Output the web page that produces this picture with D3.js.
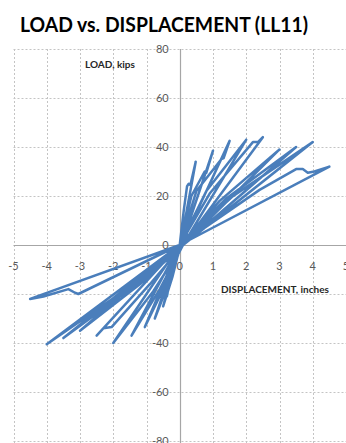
<!DOCTYPE html>
<html>
<head>
<meta charset="utf-8">
<script src="https://cdn.jsdelivr.net/npm/d3@7"></script>
<style>
  html, body { margin: 0; padding: 0; background: #fff; }
  svg { display: block; }
</style>
</head>
<body>
<div id="chart"></div>
<script>
// chart text
const title = 'LOAD vs. DISPLACEMENT (LL11)';
const yTitle = 'LOAD, kips';
const xTitle = 'DISPLACEMENT, inches';

// axis ticks
const xTicks = [-5, -4, -3, -2, -1, 0, 1, 2, 3, 4, 5];
const yTicks = [-80, -60, -40, -20, 0, 20, 40, 60, 80];

// load cycles, [displacement (in), load (kips)]
const cycle1 = [[0, 0], [0.12, 14], [0.22, 24], [0.27, 25], [0.32, 24.5], [0.48, 34], [0.02, 0], [-0.22, -13], [-0.5, -25], [0, 0]];
const cycle2 = [[0, 0], [0.35, 20], [0.75, 30], [0.8, 29.5], [1.0, 38.5], [0.05, 0], [-0.35, -16], [-0.75, -30], [0, 0]];
const cycle3 = [[0, 0], [0.5, 22], [1.25, 35], [1.32, 35.5], [1.5, 42.5], [0.05, 0], [-0.5, -18], [-1.05, -33.5], [0, 0]];
const cycle4 = [[0, 0], [0.8, 22], [2.0, 43], [0.1, 0], [-0.6, -18], [-1.45, -37], [0, 0]];
const cycle5 = [[0, 0], [0.9, 21], [2.2, 42], [2.35, 42], [2.5, 44], [0.1, 0], [-0.8, -19], [-2.0, -40], [0, 0]];
const cycle6 = [[0, 0], [1.2, 18], [3.0, 39], [0.1, 0], [-0.9, -16], [-2.05, -33.5], [-2.3, -34], [-2.5, -37], [0, 0]];
const cycle7 = [[0, 0], [1.4, 19], [3.5, 40], [0.1, 0], [-1.2, -16], [-3.0, -35], [0, 0]];
const cycle8 = [[0, 0], [1.6, 20], [4.0, 42], [0.1, 0], [-1.4, -17], [-3.5, -38], [0, 0]];
const cycle9 = [[0, 0], [1.5, 19], [3.9, 41], [0.1, 0], [-1.6, -18], [-4.0, -40.5], [0, 0]];
const cycle10 = [[0, 0], [2.4, 22.5], [3.5, 31], [3.7, 31], [3.85, 29.5], [4.05, 30], [4.5, 32], [0, 0],
  [-3.05, -20], [-3.15, -19.5], [-3.35, -18], [-4.1, -21], [-4.5, -22], [0, 0]];

const cycles = [cycle1, cycle2, cycle3, cycle4, cycle5, cycle6, cycle7, cycle8, cycle9, cycle10];

const width = 346;
const height = 443;

const svg = d3.select('#chart')
  .append('svg')
  .attr('width', width)
  .attr('height', height);

// scales
const x = d3.scaleLinear().domain([-5, 5]).range([13.5, 346]);
const y = d3.scaleLinear().domain([-80, 80]).range([441, 49]);

// title
svg.append('text')
  .attr('x', 20)
  .attr('y', 32)
  .attr('textLength', 288)
  .attr('lengthAdjust', 'spacingAndGlyphs')
  .style('font-family', 'Lato, "Open Sans", sans-serif')
  .style('font-weight', 'bold')
  .style('font-size', '21px')
  .attr('fill', '#000')
  .text(title);

// dashed grid
svg.append('g')
  .selectAll('line')
  .data(xTicks.filter(d => d !== 0))
  .join('line')
  .attr('x1', d => Math.round(x(d)) + 0.5)
  .attr('x2', d => Math.round(x(d)) + 0.5)
  .attr('y1', y(80))
  .attr('y2', height)
  .attr('stroke', '#c4c4c4')
  .attr('stroke-dasharray', '2,2');

svg.append('g')
  .selectAll('line')
  .data(yTicks.filter(d => d !== 0))
  .join('line')
  .attr('x1', x(-5))
  .attr('x2', width)
  .attr('y1', d => Math.round(y(d)) + 0.5)
  .attr('y2', d => Math.round(y(d)) + 0.5)
  .attr('stroke', '#c4c4c4')
  .attr('stroke-dasharray', '2,2');

// axes through zero
svg.append('line')
  .attr('x1', Math.round(x(0)) + 0.5)
  .attr('x2', Math.round(x(0)) + 0.5)
  .attr('y1', y(80))
  .attr('y2', height)
  .attr('stroke', '#a6a6a6')
  .attr('stroke-width', 1.2);

svg.append('line')
  .attr('x1', x(-5))
  .attr('x2', width)
  .attr('y1', Math.round(y(0)) + 0.5)
  .attr('y2', Math.round(y(0)) + 0.5)
  .attr('stroke', '#a6a6a6')
  .attr('stroke-width', 1.2);

// tick labels
const labelFont = 'Lato, "Open Sans", sans-serif';

svg.append('g')
  .selectAll('text')
  .data(yTicks)
  .join('text')
  .attr('x', x(0) - 11)
  .attr('y', d => y(d))
  .attr('dy', '0.35em')
  .attr('text-anchor', 'end')
  .style('font-family', labelFont)
  .style('font-size', '11px')
  .attr('fill', '#595959')
  .text(d => d);

svg.append('g')
  .selectAll('text')
  .data(xTicks)
  .join('text')
  .attr('x', d => x(d))
  .attr('y', y(0) + 21)
  .attr('dy', '0.35em')
  .attr('text-anchor', 'middle')
  .style('font-family', labelFont)
  .style('font-size', '11px')
  .attr('fill', '#595959')
  .text(d => d);

// series
const line = d3.line()
  .x(d => x(d[0]))
  .y(d => y(d[1]));

svg.append('path')
  .datum(cycles.flat())
  .attr('d', line)
  .attr('fill', 'none')
  .attr('stroke', '#4a7ebb')
  .attr('stroke-width', 2.5)
  .attr('stroke-linejoin', 'round')
  .attr('stroke-linecap', 'round');

// axis titles
svg.append('text')
  .attr('x', 85)
  .attr('y', 64)
  .attr('dy', '0.35em')
  .style('font-family', labelFont)
  .style('font-weight', 'bold')
  .style('font-size', '10px')
  .attr('fill', '#262626')
  .text(yTitle);

svg.append('text')
  .attr('x', 221)
  .attr('y', 289)
  .attr('dy', '0.35em')
  .style('font-family', labelFont)
  .style('font-weight', 'bold')
  .style('font-size', '10px')
  .attr('fill', '#262626')
  .text(xTitle);
</script>
</body>
</html>
